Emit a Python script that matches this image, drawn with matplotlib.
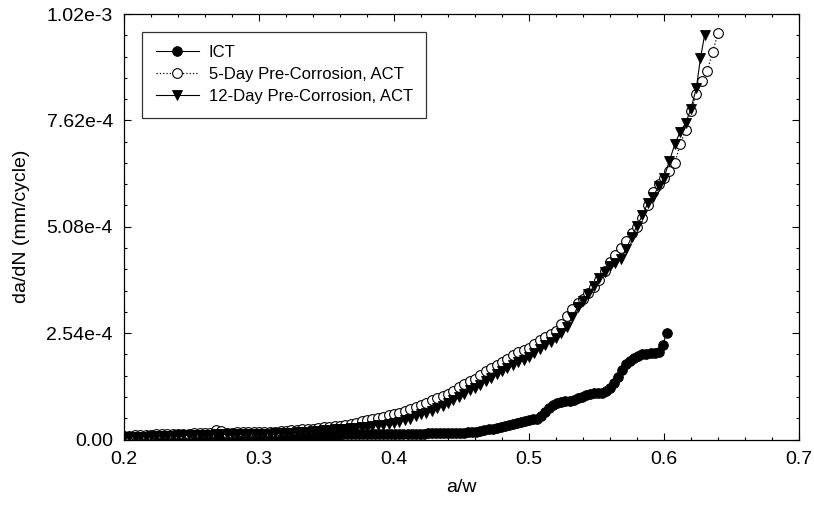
import matplotlib
matplotlib.use("Agg")
import matplotlib.pyplot as plt
from matplotlib.ticker import FixedLocator, FixedFormatter, MultipleLocator

plt.rcParams['font.family'] = ['Liberation Sans', 'DejaVu Sans']

# ---------------- data (da/dN in units of 1e-4 mm/cycle) ----------------
ict_aw = [0.200, 0.203, 0.206, 0.209, 0.212, 0.215, 0.218, 0.221, 0.224, 0.227,
          0.230, 0.233, 0.236, 0.239, 0.242, 0.245, 0.248, 0.251, 0.254, 0.257,
          0.260, 0.263, 0.266, 0.269, 0.272, 0.275, 0.278, 0.281, 0.284, 0.287,
          0.290, 0.293, 0.296, 0.299, 0.302, 0.305, 0.308, 0.311, 0.314, 0.317,
          0.320, 0.323, 0.326, 0.329, 0.332, 0.335, 0.338, 0.341, 0.344, 0.347,
          0.350, 0.353, 0.356, 0.359, 0.362, 0.365, 0.368, 0.371, 0.374, 0.377,
          0.380, 0.383, 0.386, 0.389, 0.392, 0.395, 0.398, 0.401, 0.404, 0.407,
          0.410, 0.413, 0.416, 0.419, 0.422, 0.425, 0.428, 0.431, 0.434, 0.437,
          0.440, 0.443, 0.446, 0.449, 0.452, 0.455, 0.458, 0.461, 0.464, 0.467,
          0.470, 0.473, 0.476, 0.479, 0.482, 0.485, 0.488, 0.491, 0.494, 0.497,
          0.500, 0.503, 0.506, 0.509, 0.512, 0.515, 0.518, 0.521, 0.524, 0.527,
          0.530, 0.533, 0.536, 0.539, 0.542, 0.545, 0.548, 0.551, 0.554, 0.557,
          0.560, 0.563, 0.566, 0.569, 0.572, 0.575, 0.578, 0.581, 0.584, 0.587,
          0.590, 0.593, 0.596, 0.599, 0.602]
ict_v = [0.05, 0.05, 0.05, 0.06, 0.06, 0.06, 0.06, 0.06, 0.06, 0.06,
         0.07, 0.07, 0.07, 0.07, 0.07, 0.07, 0.07, 0.07, 0.07, 0.08,
         0.08, 0.08, 0.08, 0.08, 0.08, 0.08, 0.07, 0.06, 0.05, 0.05,
         0.06, 0.07, 0.08, 0.08, 0.09, 0.09, 0.09, 0.09, 0.09, 0.09,
         0.10, 0.10, 0.10, 0.10, 0.10, 0.10, 0.10, 0.11, 0.11, 0.11,
         0.11, 0.11, 0.11, 0.11, 0.12, 0.12, 0.12, 0.12, 0.12, 0.12,
         0.12, 0.12, 0.12, 0.12, 0.12, 0.13, 0.13, 0.13, 0.13, 0.13,
         0.13, 0.14, 0.14, 0.14, 0.14, 0.15, 0.15, 0.15, 0.15, 0.15,
         0.15, 0.16, 0.16, 0.16, 0.16, 0.17, 0.18, 0.19, 0.20, 0.22,
         0.24, 0.26, 0.28, 0.30, 0.32, 0.35, 0.38, 0.40, 0.42, 0.45,
         0.47, 0.48, 0.50, 0.55, 0.65, 0.76, 0.83, 0.87, 0.89, 0.91,
         0.93, 0.95, 0.98, 1.02, 1.06, 1.09, 1.10, 1.10, 1.11, 1.15,
         1.24, 1.36, 1.50, 1.66, 1.80, 1.88, 1.94, 1.99, 2.03, 2.05,
         2.06, 2.07, 2.08, 2.25, 2.55]

d5_aw = [0.200, 0.204, 0.208, 0.212, 0.216, 0.220, 0.224, 0.228, 0.232, 0.236,
         0.240, 0.244, 0.248, 0.252, 0.256, 0.260, 0.264, 0.268, 0.272, 0.276,
         0.280, 0.284, 0.288, 0.292, 0.296, 0.300, 0.304, 0.308, 0.312, 0.316,
         0.320, 0.324, 0.328, 0.332, 0.336, 0.340, 0.344, 0.348, 0.352, 0.356,
         0.360, 0.364, 0.368, 0.372, 0.376, 0.380, 0.384, 0.388, 0.392, 0.396,
         0.400, 0.404, 0.408, 0.412, 0.416, 0.420, 0.424, 0.428, 0.432, 0.436,
         0.440, 0.444, 0.448, 0.452, 0.456, 0.460, 0.464, 0.468, 0.472, 0.476,
         0.480, 0.484, 0.488, 0.492, 0.496, 0.500, 0.504, 0.508, 0.512, 0.516,
         0.520, 0.524, 0.528, 0.532, 0.536, 0.540, 0.544, 0.548, 0.552, 0.556,
         0.560, 0.564, 0.568, 0.572, 0.576, 0.580, 0.584, 0.588, 0.592, 0.596,
         0.600, 0.604, 0.608, 0.612, 0.616, 0.620, 0.624, 0.628, 0.632, 0.636,
         0.640]
d5_v = [0.08, 0.09, 0.10, 0.10, 0.11, 0.11, 0.12, 0.12, 0.13, 0.13,
        0.14, 0.14, 0.14, 0.15, 0.15, 0.15, 0.16, 0.22, 0.20, 0.16,
        0.16, 0.17, 0.17, 0.17, 0.18, 0.18, 0.18, 0.19, 0.19, 0.20,
        0.21, 0.22, 0.23, 0.24, 0.25, 0.26, 0.27, 0.29, 0.30, 0.32,
        0.33, 0.35, 0.37, 0.40, 0.43, 0.46, 0.48, 0.51, 0.53, 0.58,
        0.61, 0.63, 0.68, 0.73, 0.77, 0.83, 0.88, 0.94, 0.99, 1.03,
        1.08, 1.15, 1.26, 1.33, 1.39, 1.45, 1.53, 1.63, 1.71, 1.78,
        1.86, 1.93, 2.01, 2.08, 2.13, 2.19, 2.27, 2.37, 2.45, 2.52,
        2.58, 2.75, 2.95, 3.12, 3.25, 3.36, 3.50, 3.64, 3.80, 4.02,
        4.25, 4.40, 4.58, 4.75, 4.92, 5.08, 5.28, 5.60, 5.90, 6.10,
        6.25, 6.40, 6.60, 7.05, 7.40, 7.85, 8.25, 8.55, 8.80, 9.25,
        9.70]

d12_aw = [0.200, 0.204, 0.208, 0.212, 0.216, 0.220, 0.224, 0.228, 0.232, 0.236,
          0.240, 0.244, 0.248, 0.252, 0.256, 0.260, 0.264, 0.268, 0.272, 0.276,
          0.280, 0.284, 0.288, 0.292, 0.296, 0.300, 0.304, 0.308, 0.312, 0.316,
          0.320, 0.324, 0.328, 0.332, 0.336, 0.340, 0.344, 0.348, 0.352, 0.356,
          0.360, 0.364, 0.368, 0.372, 0.376, 0.380, 0.384, 0.388, 0.392, 0.396,
          0.400, 0.404, 0.408, 0.412, 0.416, 0.420, 0.424, 0.428, 0.432, 0.436,
          0.440, 0.444, 0.448, 0.452, 0.456, 0.460, 0.464, 0.468, 0.472, 0.476,
          0.480, 0.484, 0.488, 0.492, 0.496, 0.500, 0.504, 0.508, 0.512, 0.516,
          0.520, 0.524, 0.528, 0.532, 0.536, 0.540, 0.544, 0.548, 0.552, 0.556,
          0.560, 0.564, 0.568, 0.572, 0.576, 0.580, 0.584, 0.588, 0.592, 0.596,
          0.600, 0.604, 0.608, 0.612, 0.616, 0.620, 0.624, 0.627, 0.630]
d12_v = [0.05, 0.06, 0.06, 0.07, 0.07, 0.08, 0.08, 0.08, 0.09, 0.09,
         0.10, 0.10, 0.10, 0.11, 0.11, 0.11, 0.11, 0.12, 0.12, 0.12,
         0.12, 0.12, 0.13, 0.13, 0.13, 0.14, 0.14, 0.14, 0.15, 0.15,
         0.16, 0.16, 0.17, 0.18, 0.19, 0.20, 0.21, 0.22, 0.23, 0.24,
         0.25, 0.26, 0.27, 0.28, 0.30, 0.31, 0.33, 0.34, 0.35, 0.37,
         0.39, 0.42, 0.46, 0.50, 0.55, 0.60, 0.64, 0.69, 0.75, 0.81,
         0.87, 0.95, 1.01, 1.08, 1.18, 1.24, 1.31, 1.40, 1.48, 1.57,
         1.64, 1.71, 1.77, 1.84, 1.91, 1.98, 2.07, 2.16, 2.25, 2.34,
         2.43, 2.55, 2.69, 2.92, 3.16, 3.30, 3.48, 3.66, 3.85, 4.00,
         4.15, 4.22, 4.30, 4.55, 4.84, 5.10, 5.35, 5.65, 5.80, 6.05,
         6.25, 6.65, 7.05, 7.35, 7.55, 7.90, 8.40, 9.10, 9.65]

labels = ["ICT", "5-Day Pre-Corrosion, ACT", "12-Day Pre-Corrosion, ACT"]
ytick_vals = [0.0, 2.54e-4, 5.08e-4, 7.62e-4, 1.016e-3]
ytick_labels = ["0.00", "2.54e-4", "5.08e-4", "7.62e-4", "1.02e-3"]
xtick_vals = [0.2, 0.3, 0.4, 0.5, 0.6, 0.7]
xtick_labels = ["0.2", "0.3", "0.4", "0.5", "0.6", "0.7"]

SCALE = 1e-4

fig = plt.figure(figsize=(8.14, 5.08), dpi=100)
ax = fig.add_axes([124/814, 68.5/508, 675/814, 425.5/508])

ax.plot(ict_aw, [v*SCALE for v in ict_v], '-', color='black', lw=0.8,
        marker='o', ms=7, mfc='black', mec='black', mew=0.6, label=labels[0])
ax.plot(d5_aw, [v*SCALE for v in d5_v], ':', color='black', lw=0.9,
        marker='o', ms=7, mfc='white', mec='black', mew=0.8, label=labels[1])
ax.plot(d12_aw, [v*SCALE for v in d12_v], '-', color='black', lw=0.8,
        marker='v', ms=7, mfc='black', mec='black', mew=0.6, label=labels[2])

ax.set_xlim(0.2, 0.7)
ax.set_ylim(0.0, 1.016e-3)
ax.xaxis.set_major_locator(FixedLocator(xtick_vals))
ax.xaxis.set_major_formatter(FixedFormatter(xtick_labels))
ax.xaxis.set_minor_locator(MultipleLocator(0.02))
ax.yaxis.set_major_locator(FixedLocator(ytick_vals))
ax.yaxis.set_major_formatter(FixedFormatter(ytick_labels))
ax.yaxis.set_minor_locator(MultipleLocator(0.508e-4))

ax.tick_params(which='both', direction='in', top=True, right=True,
               labelsize=14, width=0.8)
ax.tick_params(axis='x', which='major', pad=8)
ax.tick_params(axis='y', which='major', pad=8)
ax.tick_params(which='major', length=5)
ax.tick_params(which='minor', length=2.5)
for s in ax.spines.values():
    s.set_linewidth(0.9)

ax.set_xlabel("a/w", fontsize=14, labelpad=8)
ax.set_ylabel("da/dN (mm/cycle)", fontsize=14, labelpad=12)

leg = ax.legend(loc='upper left', bbox_to_anchor=(0.027, 0.958), borderaxespad=0,
                fontsize=12, frameon=True, fancybox=False, edgecolor='black',
                handlelength=2.6, labelspacing=0.42, borderpad=0.8, handletextpad=0.6)
leg.get_frame().set_linewidth(0.9)

fig.savefig("out.png", dpi=100)
